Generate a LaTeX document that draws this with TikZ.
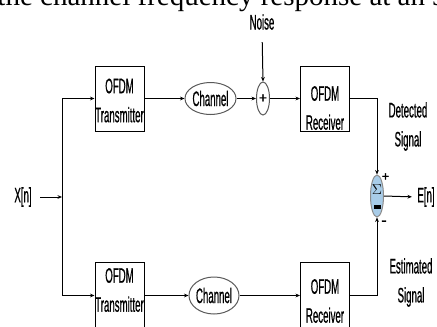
\documentclass[tikz,border=0pt]{standalone}
\usepackage{fontspec}
\setmainfont{Liberation Sans}[FakeStretch=0.46,FakeBold=0.6]
\newfontfamily\serifface{Liberation Serif}
\newfontfamily\signface{Liberation Sans}[FakeBold=1]
\usetikzlibrary{arrows.meta,shapes.geometric,calc}
\definecolor{sigblue}{RGB}{168,204,232}
\begin{document}
\begin{tikzpicture}[x=1pt,y=-1pt,
  line width=1pt,
  arr/.style={-{Stealth[length=4.5pt,width=3.8pt]}},
  box/.style={draw, rectangle, minimum width=49pt, minimum height=65pt, inner sep=0pt},
  oval/.style={draw=black!65, ellipse, inner sep=0pt},
  lbl/.style={align=center, font=\fontsize{21}{29}\selectfont, inner sep=0pt},
  sgn/.style={inner sep=0pt, font=\signface\fontsize{14}{14}\selectfont},
]
\useasboundingbox (0,0) rectangle (437,327);
\clip (0,0) rectangle (437,327);

% cropped caption text at the top
\node[anchor=base west, inner sep=0pt, font=\serifface\fontsize{29}{30}\selectfont] (cap) at (-3,5) {the channel frequency response at an sub};

% labels
\node[lbl] (noise) at (262,22) {Noise};
\node[lbl] (xn) at (23,197) {X[n]};
\node[lbl] (en) at (426,197) {E[n]};
\node[lbl] (det) at (408,126.5) {Detected\\Signal};
\node[lbl] (est) at (411,282.5) {Estimated\\Signal};

% top row
\node[box, label={[lbl,yshift=-2pt]center:OFDM\\Transmitter}] (tx1) at (119.5,98.5) {};
\node[oval, minimum width=51pt, minimum height=32pt, label={[lbl]center:Channel}] (ch1) at (210.5,98.5) {};
\node[oval, minimum width=13pt, minimum height=33pt, label={[sgn]center:+}] (plus) at (263,98.5) {};
\node[box, label={[lbl,yshift=-9.5pt]center:OFDM\\Receiver}] (rx1) at (325,98.5) {};

% bottom row
\node[box, minimum height=80pt, label={[lbl,yshift=12pt]center:OFDM\\Transmitter}] (tx2) at (119.5,302) {};
\node[oval, minimum width=50pt, minimum height=37pt, label={[lbl]center:Channel}] (ch2) at (214,295.5) {};
\node[box, minimum height=80pt, label={[lbl,yshift=1pt]center:OFDM\\Receiver}] (rx2) at (325,302) {};

% sum block
\node[ellipse, draw=black!45, fill=sigblue, minimum width=13pt, minimum height=42pt, inner sep=0pt] (sum) at (377,196) {};
\node[inner sep=0pt, font=\fontsize{14}{14}\selectfont] (sig) at (377,190) {$\Sigma$};
\fill (373.5,204.5) rectangle (380.5,209);
\node[sgn, font=\signface\fontsize{13}{13}\selectfont] (pl) at (385.5,177) {+};
\node[sgn, font=\signface\fontsize{16}{16}\selectfont] (mn) at (384,223) {-};

% junctions
\coordinate (jn) at (62,197);
\coordinate (jt) at (62,98.5);
\coordinate (jb) at (62,295.5);

% connectors
\draw[arr, shorten <=8pt] (xn.east) -- (jn);
\draw (jt) -- (jb);
\draw[arr] (jt) -- (tx1.west);
\draw[arr] (jb) -- (jb -| tx2.west);
\draw[arr] (tx1.east) -- (ch1.west);
\draw[arr] (ch1.east) -- (plus.west);
\draw[arr] (plus.east) -- (rx1.west);
\draw[arr, shorten <=12pt] (noise.south) -- (plus.north);
\draw[arr] (rx1.east) -| (sum.north);
\draw[arr] (tx2.east |- ch2) -- (ch2.west);
\draw[arr] (ch2.east) -- (ch2.east -| rx2.west);
\draw[arr] (rx2.east |- ch2) -| (sum.south);
\draw[arr, shorten >=5pt] (sum.east) -- (en.west);
\end{tikzpicture}
\end{document}
